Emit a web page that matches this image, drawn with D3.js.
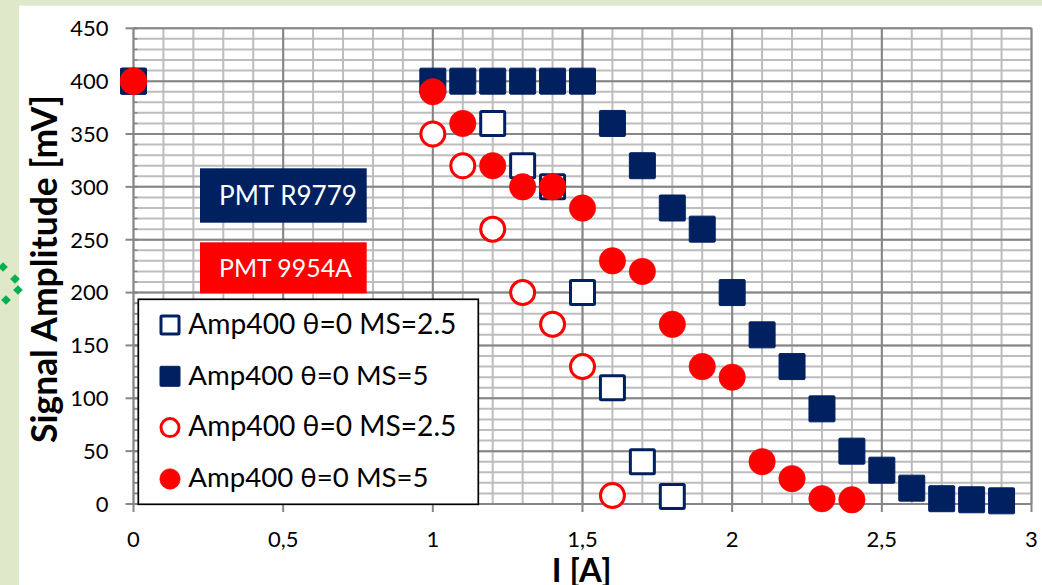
<!DOCTYPE html>
<html><head><meta charset="utf-8">
<script src="https://cdn.jsdelivr.net/npm/d3@7"></script>
<style>html,body{margin:0;padding:0;background:#fff;} svg{display:block;}</style>
</head><body>
<svg id="c" width="1042" height="585"></svg>
<script>
// ---- data ----
const xTicks = [0, 0.5, 1, 1.5, 2, 2.5, 3];
const xTickLabels = ["0", "0,5", "1", "1,5", "2", "2,5", "3"];
const yTicks = [0, 50, 100, 150, 200, 250, 300, 350, 400, 450];
const yTickLabels = ["0", "50", "100", "150", "200", "250", "300", "350", "400", "450"];
const seriesNames = ["Amp400 θ=0 MS=2.5", "Amp400 θ=0 MS=5", "Amp400 θ=0 MS=2.5", "Amp400 θ=0 MS=5"];
const boxLabels = ["PMT R9779", "PMT 9954A"];
const xTitle = "I [A]";
const yTitle = "Signal Amplitude [mV]";

const r9779Ms25X = [0, 1.2, 1.3, 1.4, 1.5, 1.6, 1.7, 1.8];
const r9779Ms25Y = [400, 360, 320, 300, 200, 110, 40, 7];
const r9779Ms5X = [0, 1.0, 1.1, 1.2, 1.3, 1.4, 1.5, 1.6, 1.7, 1.8, 1.9, 2.0, 2.1, 2.2, 2.3, 2.4, 2.5, 2.6, 2.7, 2.8, 2.9];
const r9779Ms5Y = [400, 400, 400, 400, 400, 400, 400, 360, 320, 280, 260, 200, 160, 130, 90, 50, 32, 15, 5, 4, 3];
const p9954Ms25X = [0, 1.0, 1.1, 1.2, 1.3, 1.4, 1.5, 1.6];
const p9954Ms25Y = [400, 350, 320, 260, 200, 170, 130, 8];
const p9954Ms5X = [0, 1.0, 1.1, 1.2, 1.3, 1.4, 1.5, 1.6, 1.7, 1.8, 1.9, 2.0, 2.1, 2.2, 2.3, 2.4];
const p9954Ms5Y = [400, 390, 360, 320, 300, 300, 280, 230, 220, 170, 130, 120, 40, 24, 5, 4];

// ---- setup ----
const NAVY = "#002060", RED = "#ff0000", AX = "#868686", MINOR = "#bdbdbd";
const FONT = "Lato, 'Open Sans', sans-serif";
const svg = d3.select("#c");
const x = d3.scaleLinear().domain([0, 3]).range([133.5, 1031.5]);
const y = d3.scaleLinear().domain([0, 450]).range([504, 28.3]);

// background
svg.append("rect").attr("width", 1042).attr("height", 585).attr("fill", "#dfe8c9");
svg.append("rect").attr("x", 19).attr("y", 5.7).attr("width", 1023).attr("height", 580).attr("fill", "#fff");
// decorative diamonds
const dia = [[3, 267], [15, 279], [18, 290], [6, 300]];
svg.append("g").selectAll("path").data(dia).join("path")
  .attr("d", d3.symbol(d3.symbolDiamond2 || d3.symbolDiamond, 60))
  .attr("transform", d => `translate(${d[0]},${d[1]})`)
  .attr("fill", "#00b050");

// grid
const minorX = d3.range(0, 31).map(i => i / 10);
const minorY = d3.range(0, 46).map(i => i * 10);
const grid = svg.append("g");
grid.selectAll(".vx").data(minorX).join("line")
  .attr("x1", d => x(d)).attr("x2", d => x(d)).attr("y1", y(450)).attr("y2", y(0))
  .attr("stroke", MINOR).attr("stroke-width", 2);
grid.selectAll(".hy").data(minorY).join("line")
  .attr("y1", d => y(d)).attr("y2", d => y(d)).attr("x1", x(0)).attr("x2", x(3))
  .attr("stroke", MINOR).attr("stroke-width", 2);
grid.selectAll(".mx").data(xTicks).join("line")
  .attr("x1", d => x(d)).attr("x2", d => x(d)).attr("y1", y(450)).attr("y2", y(0))
  .attr("stroke", AX).attr("stroke-width", 2);
grid.selectAll(".my").data(yTicks).join("line")
  .attr("y1", d => y(d)).attr("y2", d => y(d)).attr("x1", x(0)).attr("x2", x(3))
  .attr("stroke", AX).attr("stroke-width", 2);

// axes ticks
const ax = svg.append("g");
ax.selectAll(".yt").data(yTicks).join("line")
  .attr("x1", x(0) - 8).attr("x2", x(0) + 4).attr("y1", d => y(d)).attr("y2", d => y(d))
  .attr("stroke", AX).attr("stroke-width", 2);
ax.selectAll(".ymt").data(minorY).join("line")
  .attr("x1", x(0)).attr("x2", x(0) + 4).attr("y1", d => y(d)).attr("y2", d => y(d))
  .attr("stroke", AX).attr("stroke-width", 1.5);
ax.selectAll(".xt").data(xTicks).join("line")
  .attr("x1", d => x(d)).attr("x2", d => x(d)).attr("y1", y(0)).attr("y2", y(0) + 8)
  .attr("stroke", AX).attr("stroke-width", 2);

// tick labels
ax.selectAll(".ytl").data(yTicks).join("text")
  .attr("x", 108.5).attr("y", d => y(d) + 7.8).attr("text-anchor", "end")
  .attr("font-family", FONT).attr("font-size", 22).attr("fill", "#000")
  .text((d, i) => yTickLabels[i]);
ax.selectAll(".xtl").data(xTicks).join("text")
  .attr("x", d => x(d)).attr("y", 546.5).attr("text-anchor", "middle")
  .attr("font-family", FONT).attr("font-size", 22).attr("fill", "#000")
  .text((d, i) => xTickLabels[i]);

function fit(t, w, boost) {
  const fs = +t.attr("font-size");
  const len = t.node().getComputedTextLength();
  t.attr("font-size", fs * w / len * (boost || 1));
}

// axis titles
const yt = svg.append("text").attr("transform", "translate(57,269) rotate(-90)")
  .attr("text-anchor", "middle").attr("font-family", FONT).attr("font-weight", "bold")
  .attr("font-size", 32).attr("fill", "#000").text(yTitle);
fit(yt, 348);
const xt = svg.append("text").attr("x", 551.7).attr("y", 581.5)
  .attr("font-family", FONT).attr("font-weight", "bold")
  .attr("font-size", 32).attr("fill", "#000").text(xTitle);
fit(xt, 60);

// PMT boxes
const boxes = [
  {label: boxLabels[0], fill: NAVY, y0: 168.3, y1: 222.7, base: 205, w: 138},
  {label: boxLabels[1], fill: RED, y0: 242.3, y1: 293.3, base: 276.7, w: 133}
];
boxes.forEach(b => {
  svg.append("rect").attr("x", 200).attr("y", b.y0).attr("width", 166.7).attr("height", b.y1 - b.y0).attr("fill", b.fill);
  const t = svg.append("text").attr("x", 219).attr("y", b.base).attr("font-family", FONT)
    .attr("font-size", 26).attr("fill", "#fff").text(b.label);
  fit(t, b.w);
});

// legend
svg.append("rect").attr("x", 138.3).attr("y", 299.3).attr("width", 340).attr("height", 205)
  .attr("fill", "#fff").attr("stroke", "#000").attr("stroke-width", 1.7);

const styles = [
  {shape: "square", fill: "#fff", stroke: NAVY, open: true},
  {shape: "square", fill: NAVY, stroke: NAVY, open: false},
  {shape: "circle", fill: "#fff", stroke: RED, open: true},
  {shape: "circle", fill: RED, stroke: RED, open: false}
];

function drawMarker(g, st, size) {
  if (st.shape === "square") {
    const sw = st.open ? 3 : 1;
    const s = size - sw;
    g.append("rect").attr("x", -s / 2).attr("y", -s / 2).attr("width", s).attr("height", s)
      .attr("rx", 1).attr("fill", st.fill).attr("stroke", st.stroke).attr("stroke-width", sw);
  } else {
    const sw = st.open ? 3 : 0.5;
    g.append("circle").attr("r", (size - sw) / 2).attr("fill", st.fill)
      .attr("stroke", st.stroke).attr("stroke-width", sw);
  }
}

const legRows = seriesNames.map((n, i) => ({name: n, st: styles[i], cy: 325 + i * 51.3}));
legRows.forEach(r => {
  const g = svg.append("g").attr("transform", `translate(170,${r.cy})`);
  drawMarker(g, r.st, 21);
  const t = svg.append("text").attr("x", 188.3).attr("y", r.cy + 8.5).attr("font-family", FONT)
    .attr("font-size", 28).attr("fill", "#000").text(r.name);
  fit(t, r.name.endsWith("2.5") ? 268.3 : 240.5);
});

// data points
const series = [
  {xs: r9779Ms25X, ys: r9779Ms25Y, st: styles[0]},
  {xs: r9779Ms5X, ys: r9779Ms5Y, st: styles[1]},
  {xs: p9954Ms25X, ys: p9954Ms25Y, st: styles[2]},
  {xs: p9954Ms5X, ys: p9954Ms5Y, st: styles[3]}
];
series.forEach(s => {
  s.xs.forEach((xv, i) => {
    const g = svg.append("g").attr("transform", `translate(${x(xv)},${y(s.ys[i])})`);
    drawMarker(g, s.st, 27);
  });
});
</script>
</body></html>
